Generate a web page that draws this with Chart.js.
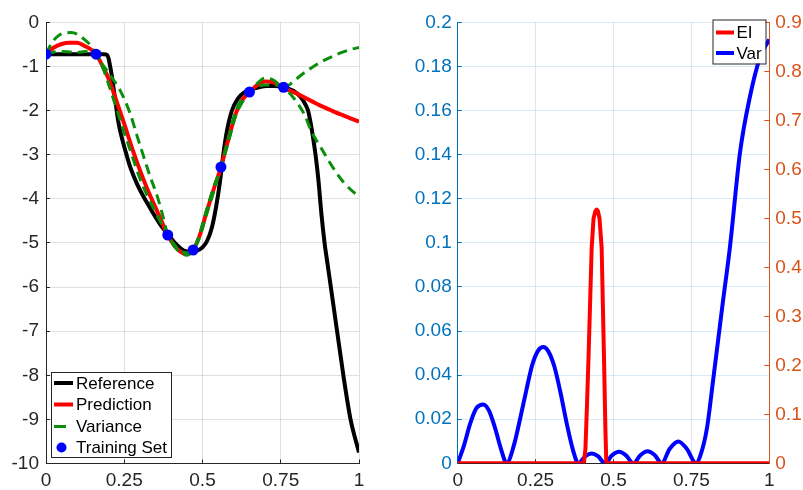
<!DOCTYPE html>
<html>
<head>
<meta charset="utf-8">
<script src="https://cdn.jsdelivr.net/npm/chart.js@4.4.0/dist/chart.umd.min.js"></script>
<style>
  html, body { margin: 0; padding: 0; background: #fff; }
  #wrap { position: relative; width: 803px; height: 490px; overflow: hidden; }
  #left { position: absolute; left: 0; top: 0; }
  #right { position: absolute; left: 400px; top: 0; }
</style>
</head>
<body>
<div id="wrap">
  <canvas id="left" width="400" height="490"></canvas>
  <canvas id="right" width="403" height="490"></canvas>
</div>
<script>
// ---- left panel data ----
const refX = [0, 0.05, 0.1, 0.16, 0.185, 0.195, 0.2, 0.205, 0.21, 0.215, 0.222, 0.231, 0.24, 0.258, 0.27, 0.29, 0.31, 0.332, 0.355, 0.375, 0.389, 0.417, 0.44, 0.46, 0.48, 0.5, 0.515, 0.53, 0.543, 0.556, 0.566, 0.577, 0.593, 0.614, 0.635, 0.652, 0.68, 0.705, 0.73, 0.759, 0.79, 0.812, 0.828, 0.838, 0.846, 0.854, 0.862, 0.87, 0.88, 0.89, 0.9, 0.91, 0.93, 0.95, 0.973, 1.0];
const refY = [-0.72, -0.72, -0.72, -0.72, -0.72, -0.74, -0.82, -1.0, -1.2, -1.45, -1.8, -2.25, -2.55, -3.02, -3.3, -3.65, -3.93, -4.2, -4.47, -4.68, -4.8, -5.04, -5.17, -5.2, -5.18, -5.1, -4.95, -4.65, -4.2, -3.6, -3.02, -2.5, -2.02, -1.72, -1.58, -1.53, -1.47, -1.44, -1.44, -1.47, -1.55, -1.68, -1.85, -2.02, -2.3, -2.65, -3.05, -3.55, -4.35, -5.0, -5.5, -6.0, -7.0, -8.0, -9.0, -9.75];

const predX = [0, 0.025, 0.05, 0.075, 0.1, 0.125, 0.145, 0.16, 0.18, 0.2, 0.225, 0.25, 0.275, 0.3, 0.325, 0.35, 0.37, 0.389, 0.41, 0.43, 0.45, 0.47, 0.49, 0.513, 0.535, 0.559, 0.58, 0.607, 0.628, 0.65, 0.675, 0.7, 0.725, 0.759, 0.78, 0.8, 0.825, 0.85, 0.875, 0.9, 0.925, 0.95, 0.975, 1.0];
const predY = [-0.72, -0.57, -0.49, -0.46, -0.46, -0.54, -0.62, -0.72, -0.98, -1.28, -1.78, -2.3, -2.85, -3.35, -3.8, -4.2, -4.52, -4.82, -5.06, -5.2, -5.25, -5.16, -4.85, -4.3, -3.8, -3.28, -2.72, -2.05, -1.75, -1.58, -1.42, -1.34, -1.36, -1.47, -1.55, -1.61, -1.7, -1.79, -1.88, -1.96, -2.04, -2.11, -2.18, -2.25];

const upperX = [0, 0.02, 0.04, 0.06, 0.08, 0.1, 0.12, 0.14, 0.16, 0.175, 0.194, 0.215, 0.236, 0.268, 0.29, 0.311, 0.333, 0.354, 0.372, 0.389, 0.41, 0.43, 0.45, 0.47, 0.49, 0.513, 0.535, 0.559, 0.58, 0.607, 0.628, 0.65, 0.675, 0.7, 0.725, 0.759, 0.78, 0.8, 0.825, 0.85, 0.875, 0.9, 0.925, 0.95, 0.975, 1.0];
const upperY = [-0.72, -0.45, -0.3, -0.24, -0.23, -0.27, -0.37, -0.5, -0.72, -0.9, -1.09, -1.3, -1.53, -2.05, -2.55, -3.02, -3.5, -3.91, -4.35, -4.82, -5.04, -5.18, -5.22, -5.16, -4.82, -4.25, -3.75, -3.28, -2.7, -2.0, -1.72, -1.58, -1.38, -1.26, -1.3, -1.47, -1.4, -1.28, -1.14, -1.02, -0.91, -0.82, -0.74, -0.67, -0.61, -0.57];

const lowerX = [0, 0.025, 0.05, 0.075, 0.1, 0.125, 0.145, 0.16, 0.18, 0.2, 0.225, 0.25, 0.275, 0.3, 0.325, 0.35, 0.37, 0.389, 0.41, 0.43, 0.45, 0.47, 0.49, 0.513, 0.535, 0.559, 0.58, 0.607, 0.628, 0.65, 0.675, 0.7, 0.725, 0.759, 0.78, 0.8, 0.825, 0.85, 0.875, 0.9, 0.925, 0.95, 0.975, 1.0];
const lowerY = [-0.72, -0.67, -0.66, -0.67, -0.68, -0.66, -0.66, -0.72, -1.0, -1.4, -1.95, -2.5, -3.02, -3.54, -3.95, -4.3, -4.58, -4.82, -5.08, -5.22, -5.28, -5.16, -4.88, -4.35, -3.85, -3.28, -2.78, -2.1, -1.8, -1.58, -1.46, -1.42, -1.42, -1.47, -1.62, -1.8, -2.08, -2.5, -2.8, -3.1, -3.38, -3.62, -3.8, -3.95];

const trainX = [0, 0.16, 0.389, 0.47, 0.559, 0.65, 0.759];
const trainY = [-0.72, -0.72, -4.82, -5.16, -3.28, -1.58, -1.47];

const xTicks = [0, 0.25, 0.5, 0.75, 1];
const xTickLabels = ['0', '0.25', '0.5', '0.75', '1'];
const yTicks = [-10, -9, -8, -7, -6, -5, -4, -3, -2, -1, 0];
const yTickLabels = ['-10', '-9', '-8', '-7', '-6', '-5', '-4', '-3', '-2', '-1', '0'];

// ---- right panel data ----
const varX = [0, 0.02, 0.04, 0.06, 0.082, 0.1, 0.12, 0.14, 0.157, 0.18, 0.2, 0.22, 0.24, 0.26, 0.275, 0.29, 0.31, 0.33, 0.35, 0.37, 0.387, 0.41, 0.43, 0.45, 0.473, 0.495, 0.518, 0.54, 0.564, 0.587, 0.609, 0.632, 0.655, 0.68, 0.708, 0.735, 0.765, 0.78, 0.8, 0.82, 0.85, 0.874, 0.906, 0.938, 0.97, 1.0];
const varY = [0, 0.008, 0.018, 0.025, 0.0267, 0.024, 0.016, 0.006, 0, 0.008, 0.02, 0.033, 0.045, 0.0515, 0.0527, 0.051, 0.044, 0.032, 0.018, 0.006, 0, 0.0033, 0.0045, 0.0032, 0, 0.0036, 0.0052, 0.0036, 0, 0.0038, 0.0055, 0.0038, 0, 0.0065, 0.0099, 0.0066, 0, 0.004, 0.016, 0.038, 0.072, 0.0985, 0.141, 0.1664, 0.184, 0.1923];

const eiX = [0, 0.2, 0.405, 0.41, 0.415, 0.42, 0.425, 0.43, 0.436, 0.442, 0.446, 0.45, 0.455, 0.462, 0.466, 0.47, 0.474, 0.477, 0.7, 1.0];
const eiY = [0, 0, 0, 0.03, 0.12, 0.22, 0.33, 0.44, 0.5, 0.515, 0.518, 0.515, 0.5, 0.44, 0.32, 0.2, 0.07, 0, 0, 0];

const varTicks = [0, 0.02, 0.04, 0.06, 0.08, 0.1, 0.12, 0.14, 0.16, 0.18, 0.2];
const varTickLabels = ['0', '0.02', '0.04', '0.06', '0.08', '0.1', '0.12', '0.14', '0.16', '0.18', '0.2'];
const eiTicks = [0, 0.1, 0.2, 0.3, 0.4, 0.5, 0.6, 0.7, 0.8, 0.9];
const eiTickLabels = ['0', '0.1', '0.2', '0.3', '0.4', '0.5', '0.6', '0.7', '0.8', '0.9'];

// ---- styling ----
const AX = '#262626';
const BLUE_AX = '#0072bd';
const ORANGE_AX = '#d95319';
const GREEN = '#0a8f0a';
const GRID = 'rgba(0,0,0,0.12)';
const FONT = 'Liberation Sans, Arial, Helvetica, sans-serif';

const pts = (xs, ys) => xs.map((x, i) => ({ x: x, y: ys[i] }));

const fixedTicks = (values) => (scale) => {
  scale.ticks = values.map(v => ({ value: v }));
};

// MATLAB-style boxed legend drawn on top of the chart area
const boxLegend = {
  id: 'boxLegend',
  afterDraw(chart, args, opts) {
    const ctx = chart.ctx;
    ctx.save();
    ctx.fillStyle = '#fff';
    ctx.strokeStyle = AX;
    ctx.lineWidth = 1;
    ctx.fillRect(opts.x, opts.y, opts.w, opts.h);
    ctx.strokeRect(opts.x + 0.5, opts.y + 0.5, opts.w, opts.h);
    ctx.font = '17px ' + FONT;
    ctx.textBaseline = 'middle';
    ctx.textAlign = 'left';
    opts.items.forEach((it, i) => {
      const y = opts.rows[i];
      if (it.type === 'dot') {
        ctx.fillStyle = it.color;
        ctx.beginPath();
        ctx.arc((opts.x0 + opts.x1) / 2 - 2, y, 5, 0, Math.PI * 2);
        ctx.fill();
      } else {
        ctx.strokeStyle = it.color;
        ctx.lineWidth = it.width;
        ctx.beginPath();
        ctx.moveTo(opts.x0, y);
        ctx.lineTo(it.short ? opts.x0 + 12 : opts.x1, y);
        ctx.stroke();
      }
      ctx.fillStyle = '#000';
      ctx.fillText(it.label, opts.tx, y + 1);
    });
    ctx.restore();
  }
};

const tickFont = { family: FONT, size: 19 };

new Chart(document.getElementById('left'), {
  type: 'line',
  data: {
    datasets: [
      { label: 'Training Set', data: pts(trainX, trainY), showLine: false, pointRadius: 5.5, pointBackgroundColor: '#0000ff', pointBorderWidth: 0, order: 1 },
      { label: 'Variance', data: pts(upperX, upperY), borderColor: GREEN, borderWidth: 3, borderDash: [10, 6], pointRadius: 0, order: 2 },
      { label: 'Variance (lower)', data: pts(lowerX, lowerY), borderColor: GREEN, borderWidth: 3, borderDash: [10, 6], pointRadius: 0, order: 2 },
      { label: 'Prediction', data: pts(predX, predY), borderColor: '#ff0000', borderWidth: 4, pointRadius: 0, order: 3 },
      { label: 'Reference', data: pts(refX, refY), borderColor: '#000000', borderWidth: 4, pointRadius: 0, order: 4 }
    ]
  },
  options: {
    responsive: false,
    animation: false,
    layout: { padding: { left: 0, top: 14.5, right: 41, bottom: 0 } },
    elements: { line: { cubicInterpolationMode: 'monotone', fill: false, borderJoinStyle: 'round' } },
    plugins: {
      legend: { display: false },
      tooltip: { enabled: false },
      boxLegend: {
        x: 51, y: 372, w: 120, h: 85, x0: 54, x1: 73, tx: 76,
        rows: [383, 404.5, 426.5, 447.5],
        items: [
          { label: 'Reference', color: '#000', width: 4 },
          { label: 'Prediction', color: '#ff0000', width: 4 },
          { label: 'Variance', color: GREEN, width: 3, short: true },
          { label: 'Training Set', color: '#0000ff', type: 'dot' }
        ]
      }
    },
    scales: {
      x: {
        type: 'linear', min: 0, max: 1,
        afterBuildTicks: fixedTicks(xTicks),
        afterFit: (s) => { s.height = 26.5; },
        ticks: { color: AX, font: tickFont, padding: 10, maxRotation: 0, callback: (v, i) => xTickLabels[i] },
        grid: { color: GRID, tickLength: -4, tickColor: AX },
        border: { color: AX, width: 1 }
      },
      y: {
        type: 'linear', min: -10, max: 0,
        afterBuildTicks: fixedTicks(yTicks),
        afterFit: (s) => { s.width = 46; },
        ticks: { color: AX, font: tickFont, padding: 11, callback: (v, i) => yTickLabels[i] },
        grid: { color: GRID, tickLength: -4, tickColor: AX },
        border: { color: AX, width: 1 }
      }
    }
  },
  plugins: [boxLegend]
});

new Chart(document.getElementById('right'), {
  type: 'line',
  data: {
    datasets: [
      { label: 'EI', data: pts(eiX, eiY), borderColor: '#ff0000', borderWidth: 4, pointRadius: 0, yAxisID: 'y2', order: 1, tension: 0 },
      { label: 'Var', data: pts(varX, varY), borderColor: '#0000ff', borderWidth: 4, pointRadius: 0, yAxisID: 'y', order: 2, cubicInterpolationMode: 'monotone' }
    ]
  },
  options: {
    responsive: false,
    animation: false,
    layout: { padding: { left: 0, top: 14.5, right: 0, bottom: 0 } },
    elements: { line: { fill: false, borderJoinStyle: 'round' } },
    plugins: {
      legend: { display: false },
      tooltip: { enabled: false },
      boxLegend: {
        x: 312.5, y: 19.5, w: 53, h: 44, x0: 316, x1: 334, tx: 336.5,
        rows: [32.5, 53],
        items: [
          { label: 'EI', color: '#ff0000', width: 4 },
          { label: 'Var', color: '#0000ff', width: 4 }
        ]
      }
    },
    scales: {
      x: {
        type: 'linear', min: 0, max: 1,
        afterBuildTicks: fixedTicks(xTicks),
        afterFit: (s) => { s.height = 26.7; },
        ticks: { color: AX, font: tickFont, padding: 10, maxRotation: 0, callback: (v, i) => xTickLabels[i] },
        grid: { color: 'rgba(38,38,38,0.12)', tickLength: -4, tickColor: AX },
        border: { color: AX, width: 1 }
      },
      y: {
        type: 'linear', position: 'left', min: 0, max: 0.2,
        afterBuildTicks: fixedTicks(varTicks),
        afterFit: (s) => { s.width = 57.7; },
        ticks: { color: BLUE_AX, font: tickFont, padding: 10, callback: (v, i) => varTickLabels[i] },
        grid: { color: 'rgba(0,114,189,0.15)', tickLength: -4, tickColor: BLUE_AX },
        border: { color: BLUE_AX, width: 1 }
      },
      y2: {
        type: 'linear', position: 'right', min: 0, max: 0.9,
        afterBuildTicks: fixedTicks(eiTicks),
        afterFit: (s) => { s.width = 33.7; },
        ticks: { color: ORANGE_AX, font: tickFont, padding: 11, callback: (v, i) => eiTickLabels[i] },
        grid: { drawOnChartArea: false, tickLength: -5, tickColor: ORANGE_AX },
        border: { color: ORANGE_AX, width: 1 }
      }
    }
  },
  plugins: [boxLegend]
});
</script>
</body>
</html>
